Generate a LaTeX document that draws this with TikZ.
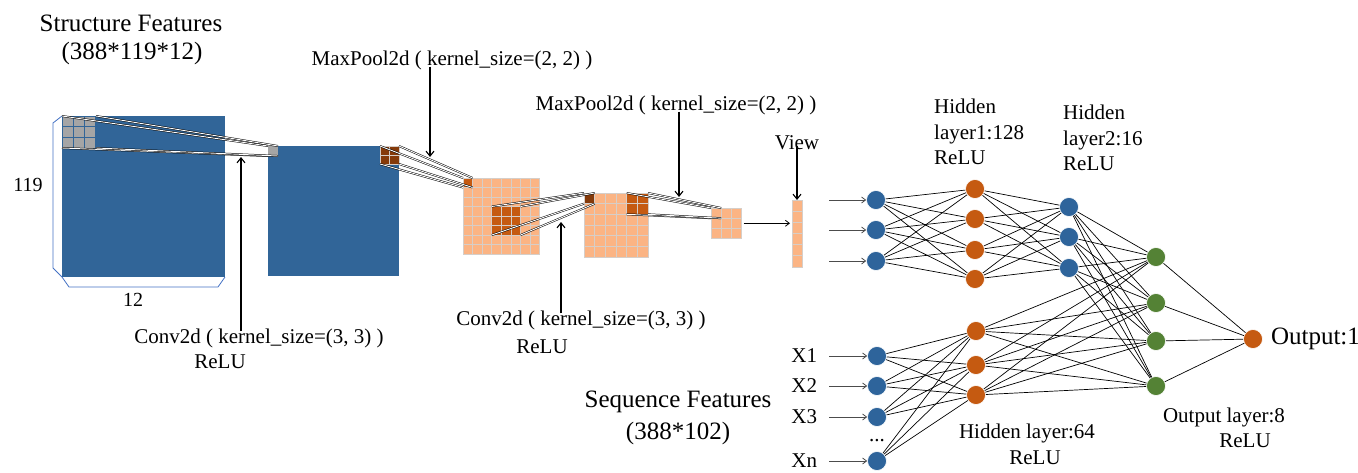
\documentclass[tikz,border=0pt]{standalone}
\usepackage{fontspec}
\setmainfont{Liberation Serif}
\usetikzlibrary{arrows.meta,calc,positioning}

\definecolor{mapblue}{RGB}{49,101,152}
\definecolor{edgeblue}{RGB}{68,114,196}
\definecolor{kgrey}{RGB}{165,165,165}
\definecolor{peach}{RGB}{251,180,132}
\definecolor{gridc}{RGB}{214,206,200}
\definecolor{brown}{RGB}{197,90,17}
\definecolor{darkbrown}{RGB}{133,58,10}
\definecolor{nblue}{RGB}{46,100,155}
\definecolor{norange}{RGB}{197,90,17}
\definecolor{ngreen}{RGB}{84,130,53}

\begin{document}
\begin{tikzpicture}[x=1pt,y=-1pt,
  lab/.style={font=\fontsize{21}{25.5}\selectfont, inner sep=0pt},
  big/.style={font=\fontsize{25}{30}\selectfont, inner sep=0pt},
  fmap/.style={anchor=north west, inner sep=0pt, outer sep=0pt},
  kcell/.style={fill=kgrey, draw=mapblue, line width=1pt},
  pcell/.style={fill=peach, draw=gridc, line width=0.8pt},
  bcell/.style={fill=brown, draw=gridc, line width=0.8pt},
  dcell/.style={fill=darkbrown, draw=gridc, line width=0.8pt},
  proj/.style={line width=0.5pt, double=white, double distance=0.9pt},
  labarrow/.style={line width=1.1pt, -{Straight Barb[length=5pt,width=8pt]}},
  inarrow/.style={line width=0.8pt, draw=black!70, -{Straight Barb[length=4pt,width=6pt]}},
  neuron/.style={circle, minimum size=19pt, inner sep=0pt, draw=white, line width=0.6pt},
  edge/.style={line width=0.7pt}]
  \useasboundingbox (0,0) rectangle (1358,472);

  % input volume
  \node[fmap, fill=mapblue, minimum width=163pt, minimum height=161pt] (map1) at (62,116) {};
  \draw[edgeblue, line width=0.8pt] (map1.north west) -- (53,123) -- (53,268) -- (map1.south west)
    -- (69,287) -- (218,287) -- (map1.south east);
  \foreach \i in {0,1,2}
    \foreach \j in {0,1,2}
      \draw[kcell] ($(map1.north west)+(\i*11.3,\j*10.7)$) rectangle +(11.3,10.7);
  \node[fmap, minimum width=34pt, minimum height=32pt] (k1) at (map1.north west) {};
  \node[lab, font=\fontsize{20}{24}\selectfont] (rows) at (28,185) {119};
  \node[lab, font=\fontsize{20}{24}\selectfont] (cols) at (133,300) {12};
  \node[big] (title1) at (131,23) {Structure Features};
  \node[big] (size1) at (132,53) {(388*119*12)};

  % conv output
  \node[fmap, fill=mapblue, minimum width=131pt, minimum height=130pt] (map2) at (268,146) {};
  \node[fmap, fill=kgrey, minimum width=10pt, minimum height=10pt] (c1) at (map2.north west) {};
  \node[anchor=north east, inner sep=0pt, outer sep=0pt, minimum width=19pt, minimum height=18pt] (k2) at (map2.north east) {};
  \foreach \i in {0,1}
    \foreach \j in {0,1}
      \draw[dcell] ($(k2.north west)+(\i*9.5,\j*9)$) rectangle +(9.5,9);

  % pooled map
  \node[fmap, minimum width=76.8pt, minimum height=76pt] (map3) at (463,178) {};
  \foreach \i in {0,...,7}
    \foreach \j in {0,...,7}
      \draw[pcell] ($(map3.north west)+(\i*9.6,\j*9.5)$) rectangle +(9.6,9.5);
  \draw[bcell] (map3.north west) rectangle +(9.6,9.5);
  \node[fmap, minimum width=9.6pt, minimum height=9.5pt] (c2) at (map3.north west) {};
  \foreach \i in {3,4,5}
    \foreach \j in {3,4,5}
      \draw[bcell] ($(map3.north west)+(\i*9.6,\j*9.5)$) rectangle +(9.6,9.5);
  \node[fmap, minimum width=28.8pt, minimum height=28.5pt] (k3) at ($(map3.north west)+(28.8,28.5)$) {};

  % second conv output
  \node[fmap, minimum width=64pt, minimum height=64pt] (map4) at (584,193) {};
  \foreach \i in {0,...,5}
    \foreach \j in {0,...,5}
      \draw[pcell] ($(map4.north west)+(\i*10.67,\j*10.67)$) rectangle +(10.67,10.67);
  \draw[dcell] (map4.north west) rectangle +(10.67,10.67);
  \node[fmap, minimum width=10.67pt, minimum height=10.67pt] (c3) at (map4.north west) {};
  \foreach \i in {4,5}
    \foreach \j in {0,1}
      \draw[bcell] ($(map4.north west)+(\i*10.67,\j*10.67)$) rectangle +(10.67,10.67);
  \node[anchor=north east, inner sep=0pt, outer sep=0pt, minimum width=21.3pt, minimum height=21.3pt] (k4) at (map4.north east) {};

  % last pooled map
  \node[fmap, minimum width=30.6pt, minimum height=30.6pt] (map5) at (711,208) {};
  \foreach \i in {0,1,2}
    \foreach \j in {0,1,2}
      \draw[pcell] ($(map5.north west)+(\i*10.2,\j*10.2)$) rectangle +(10.2,10.2);
  \node[fmap, minimum width=10.2pt, minimum height=10.2pt] (c4) at (map5.north west) {};

  % flatten
  \node[fmap, minimum width=10pt, minimum height=67pt] (view) at (792,200) {};
  \foreach \j in {0,...,5}
    \draw[pcell] ($(view.north west)+(0,\j*11.17)$) rectangle +(10,11.17);
  \draw[line width=0.8pt, -{Straight Barb[length=4pt,width=6pt]}] ([xshift=2pt]map5.east) -- ([xshift=-2pt]map5.east -| view.west);

  % receptive fields
  \foreach \a in {north west,north east,south west,south east} {
    \draw[proj] (k1.\a) -- (c1.\a);
    \draw[proj] (k2.\a) -- (c2.\a);
    \draw[proj] (k3.\a) -- (c3.\a);
    \draw[proj] (k4.\a) -- (c4.\a);
  }

  % operation labels
  \node[lab] (conv1) at (259,338) {Conv2d ( kernel\_size=(3, 3) )};
  \node[lab] (relu1) at (220,362) {ReLU};
  \node[lab] (pool1) at (452,60) {MaxPool2d ( kernel\_size=(2, 2) )};
  \node[lab] (conv2) at (581,320) {Conv2d ( kernel\_size=(3, 3) )};
  \node[lab] (relu2) at (542,347) {ReLU};
  \node[lab] (pool2) at (676,105) {MaxPool2d ( kernel\_size=(2, 2) )};
  \node[lab] (viewlab) at (797,143) {View};
  \coordinate (t1) at (241,157);
  \coordinate (t2) at (430,157);
  \coordinate (t3) at (561,222);
  \coordinate (t4) at (679,197);
  \draw[labarrow] ([yshift=-3pt]t1 |- conv1.north) -- (t1);
  \draw[labarrow] ([yshift=3pt]t2 |- pool1.south) -- (t2);
  \draw[labarrow] ([yshift=-3pt]t3 |- conv2.north) -- (t3);
  \draw[labarrow] ([yshift=3pt]t4 |- pool2.south) -- (t4);
  \draw[labarrow] ([yshift=4pt]viewlab.south) -- (view.north);

  % fully connected part
  \foreach \n/\y in {1/200,2/230,3/261}
    \node[neuron, fill=nblue] (i\n) at (876,\y) {};
  \foreach \n/\y in {1/189,2/219,3/250,4/279}
    \node[neuron, fill=norange] (h\n) at (975,\y) {};
  \foreach \n/\y in {1/207,2/237,3/268}
    \node[neuron, fill=nblue] (g\n) at (1069,\y) {};
  \foreach \n/\y in {1/356,2/386,3/417,4/461}
    \node[neuron, fill=nblue] (s\n) at (877,\y) {};
  \foreach \n/\y in {1/331,2/365,3/395}
    \node[neuron, fill=norange] (q\n) at (976,\y) {};
  \foreach \n/\y in {1/257,2/303,3/341,4/386}
    \node[neuron, fill=ngreen] (o\n) at (1156,\y) {};
  \node[neuron, fill=norange] (out) at (1253,339) {};

  \foreach \a in {1,2,3}
    \foreach \b in {1,...,4}
      \draw[edge] (i\a) -- (h\b);
  \foreach \a in {1,...,4}
    \foreach \b in {1,2,3}
      \draw[edge] (h\a) -- (g\b);
  \foreach \a in {1,2,3}
    \foreach \b in {1,...,4}
      \draw[edge] (g\a) -- (o\b);
  \foreach \a in {1,...,4}
    \foreach \b in {1,2,3}
      \draw[edge] (s\a) -- (q\b);
  \foreach \a in {1,2,3}
    \foreach \b in {1,...,4}
      \draw[edge] (q\a) -- (o\b);
  \foreach \a in {1,...,4}
    \draw[edge] (o\a) -- (out);

  \foreach \n in {1,2,3}
    \draw[inarrow] ([xshift=-47pt]i\n.center) -- (i\n);
  \foreach \n/\t in {1/X1,2/X2,3/X3,4/Xn} {
    \node[lab, left=50pt of s\n] (x\n) {\t};
    \draw[inarrow] ([xshift=-48pt]s\n.center) -- (s\n);
  }
  \node[lab] (dots) at (877,441) {...};

  % layer labels
  \node[lab, anchor=west, align=left] (hid1) at (934,132) {Hidden\\layer1:128\\ReLU};
  \node[lab, anchor=west, align=left] (hid2) at (1063,138) {Hidden\\layer2:16\\ReLU};
  \node[lab] (hid3) at (1027,433) {Hidden layer:64};
  \node[lab] (hid3act) at (1035,458) {ReLU};
  \node[lab] (outl) at (1224,417) {Output layer:8};
  \node[lab] (outlact) at (1245,441) {ReLU};
  \node[big, right=8pt of out] (outlab) {Output:1};
  \node[big] (title2) at (678,402) {Sequence Features};
  \node[big] (size2) at (678,433) {(388*102)};
\end{tikzpicture}
\end{document}
